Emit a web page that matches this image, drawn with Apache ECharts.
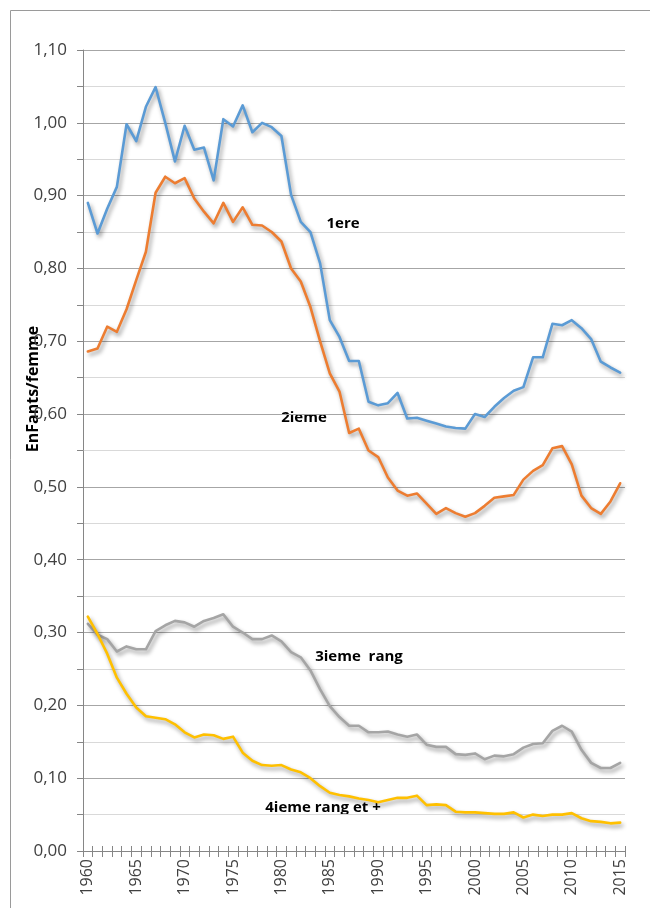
<!DOCTYPE html>
<html>
<head>
<meta charset="utf-8">
<script src="https://cdn.jsdelivr.net/npm/echarts@6/dist/echarts.min.js"></script>
<style>
  html, body { margin: 0; padding: 0; background: #fff; }
  #chart { width: 650px; height: 908px; }
</style>
</head>
<body>
<div id="chart"></div>
<script>
// annees 1960 -> 2015
var years = [];
for (var y = 1960; y <= 2015; y++) years.push(String(y));

// enfants par femme selon le rang de naissance
var rang1 = [0.890, 0.848, 0.882, 0.912, 0.998, 0.975, 1.022, 1.049, 1.000, 0.947,
             0.996, 0.963, 0.966, 0.921, 1.005, 0.995, 1.024, 0.987, 1.000, 0.994,
             0.982, 0.901, 0.864, 0.850, 0.807, 0.729, 0.706, 0.673, 0.673, 0.617,
             0.612, 0.615, 0.629, 0.594, 0.595, 0.591, 0.587, 0.583, 0.581, 0.580,
             0.600, 0.596, 0.610, 0.622, 0.632, 0.637, 0.678, 0.678, 0.724, 0.722,
             0.729, 0.718, 0.703, 0.672, 0.664, 0.657];
var rang2 = [0.686, 0.690, 0.720, 0.713, 0.744, 0.784, 0.823, 0.904, 0.926, 0.917,
             0.924, 0.896, 0.878, 0.862, 0.890, 0.864, 0.884, 0.860, 0.859, 0.850,
             0.837, 0.800, 0.782, 0.747, 0.700, 0.656, 0.631, 0.574, 0.580, 0.550,
             0.541, 0.513, 0.495, 0.488, 0.491, 0.477, 0.463, 0.471, 0.464, 0.459,
             0.464, 0.474, 0.485, 0.487, 0.489, 0.510, 0.522, 0.530, 0.553, 0.556,
             0.531, 0.488, 0.471, 0.463, 0.480, 0.505];
var rang3 = [0.312, 0.297, 0.291, 0.274, 0.281, 0.277, 0.277, 0.302, 0.310, 0.316,
             0.314, 0.308, 0.316, 0.320, 0.325, 0.308, 0.300, 0.291, 0.291, 0.296,
             0.288, 0.273, 0.266, 0.248, 0.222, 0.199, 0.184, 0.172, 0.172, 0.163,
             0.163, 0.164, 0.160, 0.157, 0.160, 0.146, 0.143, 0.143, 0.133, 0.132,
             0.134, 0.126, 0.131, 0.130, 0.133, 0.142, 0.147, 0.148, 0.165, 0.172,
             0.164, 0.139, 0.121, 0.114, 0.114, 0.121];
var rang4 = [0.322, 0.298, 0.271, 0.238, 0.216, 0.197, 0.185, 0.183, 0.181, 0.174,
             0.163, 0.156, 0.160, 0.159, 0.154, 0.157, 0.135, 0.124, 0.118, 0.117,
             0.118, 0.112, 0.108, 0.100, 0.089, 0.080, 0.077, 0.075, 0.072, 0.070,
             0.067, 0.070, 0.073, 0.073, 0.076, 0.063, 0.064, 0.063, 0.054, 0.053,
             0.053, 0.052, 0.051, 0.051, 0.053, 0.046, 0.050, 0.048, 0.050, 0.050,
             0.052, 0.045, 0.041, 0.040, 0.038, 0.039];

var seriesNames = ['1ere', '2ieme', '3ieme  rang', '4ieme rang et +'];
var colors = ['#5B9BD5', '#ED7D31', '#A5A5A5', '#FFC000'];

var font = '"Open Sans", "Liberation Sans", sans-serif';
var shadow = {
    shadowColor: 'rgba(0,0,0,0.4)',
    shadowBlur: 4,
    shadowOffsetX: 2,
    shadowOffsetY: 3
};

function line(name, data, color) {
    return {
        name: name,
        type: 'line',
        data: data,
        symbol: 'none',
        smooth: false,
        lineStyle: Object.assign({ width: 2.6, color: color, join: 'round', cap: 'round' }, shadow),
        itemStyle: { color: color },
        animation: false
    };
}

// etiquettes posees dans le graphique
function tag(text, x, y) {
    return {
        type: 'text',
        x: x, y: y,
        style: {
            text: text,
            fill: '#000',
            font: 'bold 15px ' + font,
            textAlign: 'center',
            textVerticalAlign: 'middle',
            shadowColor: 'rgba(0,0,0,0.45)',
            shadowBlur: 3,
            shadowOffsetX: 2,
            shadowOffsetY: 2
        }
    };
}

var chart = echarts.init(document.getElementById('chart'));
chart.setOption({
    backgroundColor: '#fff',
    animation: false,
    grid: { left: 83, right: 25, top: 50, bottom: 57, containLabel: false },
    xAxis: [{
        type: 'category',
        data: years,
        boundaryGap: true,
        axisLine: { lineStyle: { color: '#868686', width: 1 } },
        axisTick: { show: true, interval: 0, length: 6, lineStyle: { color: '#868686' } },
        axisLabel: {
            interval: 4,
            rotate: 90,
            margin: 8,
            color: '#404040',
            fontSize: 16,
            fontFamily: font
        },
        splitLine: { show: false }
    }, {
        type: 'category',
        data: years,
        position: 'bottom',
        boundaryGap: true,
        axisLine: { show: false },
        axisTick: { show: true, inside: true, interval: 0, length: 5, lineStyle: { color: '#868686' } },
        axisLabel: { show: false },
        splitLine: { show: false }
    }],
    yAxis: {
        type: 'value',
        min: 0,
        max: 1.1,
        interval: 0.05,
        axisLine: { show: true, lineStyle: { color: '#868686' } },
        axisTick: { show: true, length: 6, lineStyle: { color: '#868686' } },
        axisLabel: {
            margin: 16,
            color: '#404040',
            fontSize: 17,
            fontFamily: font,
            formatter: function (v) {
                var c = Math.round(v * 100);
                if (c % 10 !== 0) return '';
                return (c / 100).toFixed(2).replace('.', ',');
            }
        },
        splitLine: { show: true, lineStyle: { color: ['#a6a6a6', '#d9d9d9'], width: 1 } }
    },
    series: [
        line(seriesNames[0], rang1, colors[0]),
        line(seriesNames[1], rang2, colors[1]),
        line(seriesNames[2], rang3, colors[2]),
        line(seriesNames[3], rang4, colors[3])
    ],
    graphic: [
        {
            type: 'polyline',
            shape: { points: [[10.5, 950], [10.5, 10.5], [700, 10.5]] },
            style: { stroke: '#9a9a9a', lineWidth: 1, fill: null },
            silent: true
        },
        {
            type: 'text',
            x: 33, y: 389,
            rotation: Math.PI / 2,
            style: {
                text: 'EnFants/femme',
                fill: '#000',
                font: 'bold 16px ' + font,
                textAlign: 'center',
                textVerticalAlign: 'middle'
            }
        },
        tag(seriesNames[0], 343, 224),
        tag(seriesNames[1], 304, 418),
        tag(seriesNames[2], 359, 657),
        tag(seriesNames[3], 323, 808)
    ]
});
</script>
</body>
</html>
